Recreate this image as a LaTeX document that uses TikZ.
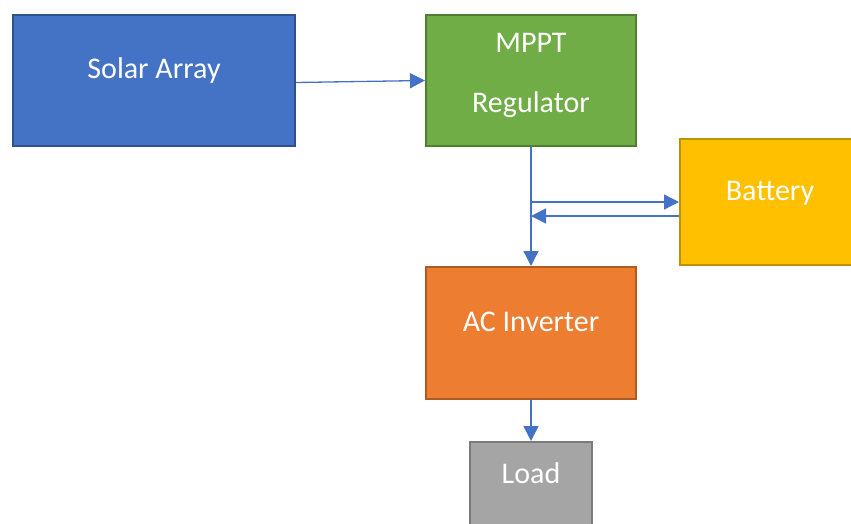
\documentclass[tikz,border=0pt]{standalone}
\usepackage{fontspec}
\setmainfont{Carlito}
\usetikzlibrary{arrows.meta}

\definecolor{solarfill}{HTML}{4472C4}
\definecolor{solarline}{HTML}{2F528F}
\definecolor{mpptfill}{HTML}{70AD47}
\definecolor{mpptline}{HTML}{507E32}
\definecolor{battfill}{HTML}{FFC000}
\definecolor{battline}{HTML}{BF9000}
\definecolor{invfill}{HTML}{ED7D31}
\definecolor{invline}{HTML}{AE5A21}
\definecolor{loadfill}{HTML}{A5A5A5}
\definecolor{loadline}{HTML}{7B7B7B}
\definecolor{wire}{HTML}{4472C4}

\tikzset{
  block/.style={rectangle, line width=2pt, text=white, inner sep=0pt,
    font=\fontsize{30}{36}\selectfont, text height=20pt, text depth=24pt},
  flow/.style={draw=wire, line width=1.3pt, -{Triangle[length=15pt,width=15pt]}}
}

\begin{document}
\begin{tikzpicture}[x=1pt, y=-1pt]
                \useasboundingbox (0,0) rectangle (851,524);

                \node[block, fill=solarfill, draw=solarline, minimum width=282pt, minimum height=131pt] at (154,80.5) (solar) {Solar Array};
                \node[block, fill=mpptfill, draw=mpptline, minimum width=210pt, minimum height=131pt, align=center, text height=80pt, text depth=15pt] at (531,80.5) (mppt) {MPPT\\[24pt]Regulator};
                \node[block, fill=battfill, draw=battline, minimum width=180pt, minimum height=126pt] at (770,202) (batt) {Battery};
                \node[block, fill=invfill, draw=invline, minimum width=210pt, minimum height=132pt] at (531,333) (inv) {AC Inverter};
                \node[block, fill=loadfill, draw=loadline, minimum width=122pt, minimum height=86pt] at (531,485) (load) {Load};

                \coordinate (tapout) at (mppt.south |- batt.west);
                \coordinate (tapin) at ([yshift=-14pt]tapout);

                \draw[flow] ([yshift=-2pt]solar.east) -- (mppt.west);
                \draw[flow] (mppt.south) -- (inv.north);
                \draw[flow] (tapout) -- (batt.west);
                \draw[flow] (batt.west |- tapin) -- (tapin);
                \draw[flow] (inv.south) -- (load.north);
            \end{tikzpicture}
\end{document}
